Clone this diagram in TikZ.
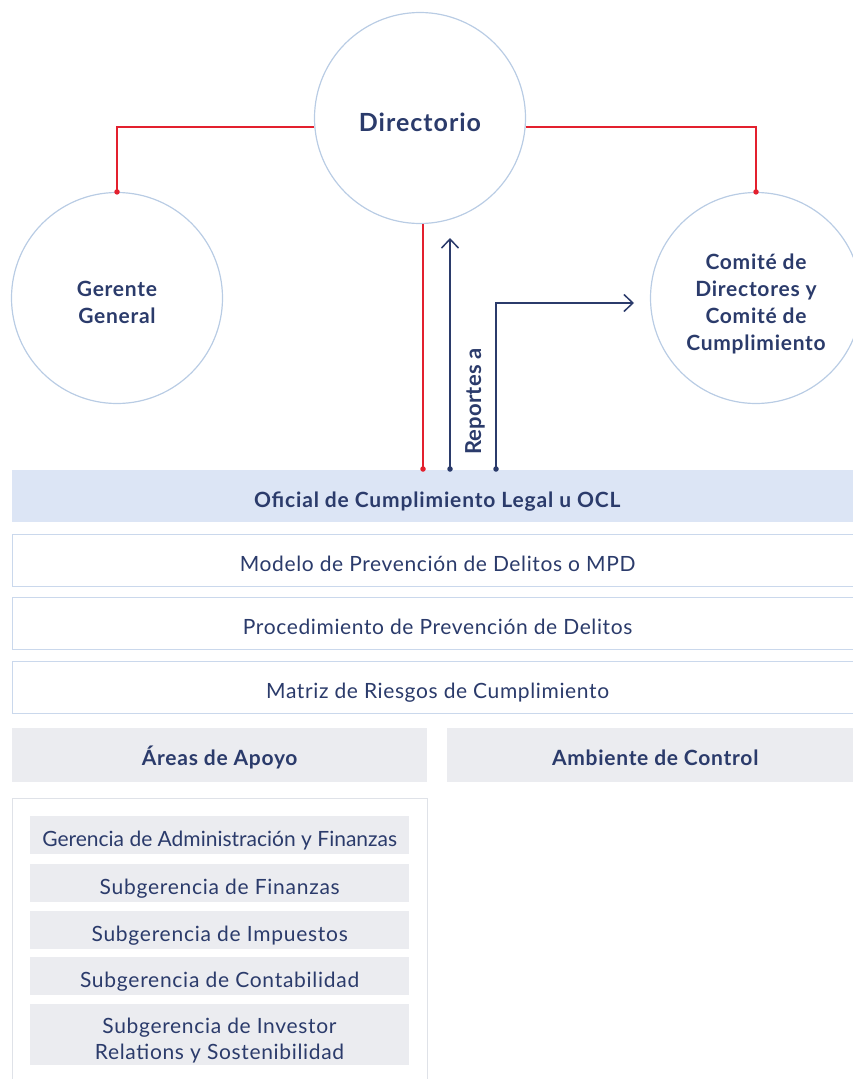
\documentclass[tikz,border=0pt]{standalone}
\usepackage{fontspec}
\setmainfont{Lato}
\usetikzlibrary{arrows.meta}
\definecolor{navy}{HTML}{2B3B6B}
\definecolor{redl}{HTML}{E3202E}
\definecolor{circb}{HTML}{B9CCE4}
\definecolor{oclfill}{HTML}{DCE5F5}
\definecolor{grayfill}{HTML}{EBECF0}
\definecolor{boxb}{HTML}{CAD8EC}
\definecolor{contb}{HTML}{DFE2E8}
\newcommand{\ls}[1]{\addfontfeature{LetterSpace=#1}}
\tikzset{
  circnode/.style={circle,draw=circb,line width=1.2pt,minimum size=211pt,inner sep=0pt},
  circtext/.style={text=navy,align=center,inner sep=0pt,font=\bfseries\fontsize{21}{27}\selectfont\ls{3.5}},
  redline/.style={draw=redl,line width=1.5pt},
  blueline/.style={draw=navy,line width=1.5pt},
  reddot/.style={fill=redl,circle,inner sep=0pt,minimum size=5.5pt},
  bluedot/.style={fill=navy,circle,inner sep=0pt,minimum size=5.5pt},
  barb/.style={-{Straight Barb[length=9pt,width=17pt,line width=1.5pt]}},
  band/.style={rectangle,anchor=north west,inner sep=0pt,text=navy,minimum width=850pt,text height=22.5pt,text depth=0pt},
  oclbox/.style={band,fill=oclfill,minimum height=52pt,text height=23pt,font=\bfseries\fontsize{21}{25}\selectfont\ls{4}},
  linebox/.style={band,fill=white,draw=boxb,line width=1.3pt,minimum height=52pt,font=\fontsize{21}{25}\selectfont\ls{3}},
  headbox/.style={rectangle,anchor=north west,inner sep=0pt,text=navy,fill=grayfill,minimum width=415pt,minimum height=54pt,text height=21.4pt,text depth=0pt,font=\bfseries\fontsize{21}{25}\selectfont\ls{3.5}},
  itembox/.style={rectangle,anchor=north west,inner sep=0pt,text=navy,fill=grayfill,minimum width=379pt,minimum height=38pt,text height=22pt,text depth=0pt,font=\fontsize{21}{26}\selectfont\ls{3.5}},
  itemtext/.style={text=navy,align=center,inner sep=0pt,font=\fontsize{21}{26}\selectfont\ls{3.2}},
}
\begin{document}
\begin{tikzpicture}[x=1pt,y=-1pt]
\useasboundingbox (0,0) rectangle (853,1079);
\clip (0,0) rectangle (853,1079);
% circles
\node[circnode,text=navy,text height=27.4pt,text depth=0pt,font=\bfseries\fontsize{25}{30}\selectfont\ls{4}] (dir) at (420,118) {Directorio};
\node[circnode] (gg) at (117,298) {};
\node[circtext] (ggt) at (117,302) {Gerente\\General};
\node[circnode] (com) at (756,298) {};
\node[circtext] (comt) at (756,304) {Comité de\\Directores y\\Comité de\\Cumplimiento};
% bands
\node[oclbox] (ocl) at (12,470) {Oficial de Cumplimiento Legal u OCL};
\node[linebox] (mpd) at (12,534) {Modelo de Prevención de Delitos o MPD};
\node[linebox] (proc) at (12,597) {Procedimiento de Prevención de Delitos};
\node[linebox] (mat) at (12,661) {Matriz de Riesgos de Cumplimiento};
\node[headbox] (areas) at (12,728) {Áreas de Apoyo};
\node[headbox,minimum width=416pt] (amb) at (447,728) {Ambiente de Control};
% container
\node[rectangle,anchor=north west,draw=contb,line width=1.2pt,minimum width=415pt,minimum height=320pt,inner sep=0pt] (cont) at (12,798) {};
\node[itembox,font=\fontsize{21}{26}\selectfont] (i1) at (30,816) {Gerencia de Administración y Finanzas};
\node[itembox] (i2) at (30,864) {Subgerencia de Finanzas};
\node[itembox] (i3) at (30,911) {Subgerencia de Impuestos};
\node[itembox] (i4) at (30,957) {Subgerencia de Contabilidad};
\node[itembox,minimum height=61pt] (i5) at (30,1004) {};
\node[itemtext] (i5t) at (219.5,1040.7) {Subgerencia de Investor\\Relations y Sostenibilidad};
% connectors
\draw[redline] (dir.185) -| (gg.north);
\draw[redline] (dir.-5) -| (com.north);
\node[reddot] at (gg.north) {};
\node[reddot] at (com.north) {};
\coordinate (r1) at (423,469);
\coordinate (b1) at (450,469);
\coordinate (b1t) at (450,238);
\coordinate (b2) at (496,469);
\coordinate (b2c) at (496,303);
\coordinate (b2t) at (634,303);
\draw[redline] (r1) -- (r1 |- dir.south);
\draw[blueline,barb] (b1) -- (b1t);
\draw[blueline,barb] (b2) -- (b2c) -- (b2t);
\node[reddot] at (r1) {};
\node[bluedot] at (b1) {};
\node[bluedot] at (b2) {};
\node[rotate=90,text=navy,inner sep=0pt,text height=16pt,text depth=0pt,font=\bfseries\fontsize{22}{26}\selectfont\ls{1}] (rep) at (473,401.5) {Reportes a};
\end{tikzpicture}
\end{document}
